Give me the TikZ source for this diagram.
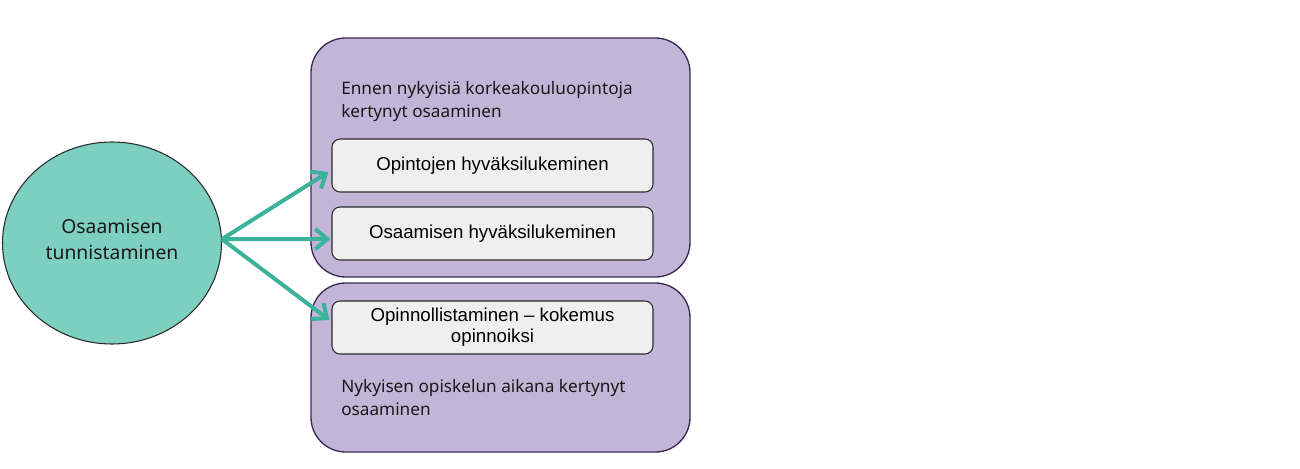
\documentclass[tikz,border=0pt]{standalone}
\usepackage{fontspec}
\setmainfont{Noto Sans}
\newfontfamily\arialf{Liberation Sans}
\usetikzlibrary{arrows.meta,shapes.geometric}
\definecolor{tealfill}{HTML}{7DCFC0}
\definecolor{tealline}{HTML}{3AB39A}
\definecolor{purplefill}{HTML}{C3B5D8}
\definecolor{purpleline}{HTML}{3A2A50}
\definecolor{greyfill}{HTML}{EFEFEF}
\definecolor{darkline}{HTML}{2A2A2A}
\tikzset{
  bigbox/.style={draw=purpleline, fill=purplefill, line width=1pt, rounded corners=26pt},
  innerbox/.style={draw=darkline, fill=greyfill, line width=0.8pt, rounded corners=6pt,
     minimum width=321*0.75pt, minimum height=53*0.75pt, inner sep=0pt,
     font=\arialf\fontsize{14}{16}\selectfont, align=center, text=black},
  boxlabel/.style={font=\fontsize{12.9}{17}\selectfont, align=left, anchor=north west, inner sep=0pt, text=black!90},
  conn/.style={draw=tealline, line width=3pt, -{Straight Barb[length=9pt, width=15pt, line width=3pt]}}
}
\begin{document}
\begin{tikzpicture}[x=0.75pt,y=-0.75pt]
\useasboundingbox (0,0) rectangle (1300,468);
% circle
\node[draw=darkline, fill=tealfill, line width=0.8pt, ellipse, minimum width=219*0.75pt, minimum height=202*0.75pt, inner sep=0pt] (c) at (112,243) {};
\node[font=\fontsize{14.5}{19.5}\selectfont, align=center, text=black!90] (ct) at (112,239) {Osaamisen\\tunnistaminen};
% big boxes
\path[bigbox] (311,38) rectangle (690,277);
\path[bigbox] (311,283) rectangle (690,452);
\node[boxlabel] (t1) at (341,81.5) {Ennen nykyisiä korkeakouluopintoja\\kertynyt osaaminen};
\node[boxlabel] (t2) at (341,379.5) {Nykyisen opiskelun aikana kertynyt\\osaaminen};
% inner boxes
\node[innerbox] (i1) at (492.5,165.5) {Opintojen hyväksilukeminen};
\node[innerbox] (i2) at (492.5,233.5) {Osaamisen hyväksilukeminen};
\node[innerbox] (i3) at (492.5,327.5) {Opinnollistaminen – kokemus\\opinnoiksi};
% arrows
\draw[conn] (c.2) -- ([xshift=-2.25pt,yshift=-4.9pt]i1.west);
\draw[conn] (c.2) -- ([xshift=-0.75pt,yshift=-4.1pt]i2.west);
\draw[conn] (c.2) -- ([xshift=-1.5pt,yshift=5.6pt]i3.west);
\end{tikzpicture}
\end{document}
